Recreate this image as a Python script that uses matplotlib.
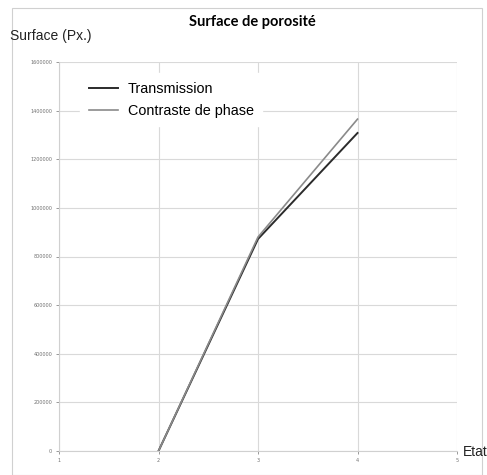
import matplotlib
matplotlib.use("Agg")
import matplotlib.pyplot as plt
from matplotlib.patches import Rectangle

etat = [2, 3, 4]
transmission = [0, 872000, 1308000]
contraste = [0, 880000, 1365000]
series_names = ["Transmission", "Contraste de phase"]
yticks = [0, 200000, 400000, 600000, 800000, 1000000, 1200000, 1400000, 1600000]
xticks = [1, 2, 3, 4, 5]

W, H = 487, 475
fig = plt.figure(figsize=(W / 100, H / 100), dpi=100)
fig.patches.append(Rectangle((12 / W, 0.0), (482 - 12) / W, 1 - 8 / H,
                             transform=fig.transFigure, fill=False,
                             edgecolor="#d0d0d0", linewidth=0.8))

ax = fig.add_axes([59 / W, 1 - 451 / H, (457 - 59) / W, (451 - 62) / H])
ax.plot(etat, transmission, color="#2b2b2b", lw=1.4, label=series_names[0])
ax.plot(etat, contraste, color="#8a8a8a", lw=1.2, label=series_names[1])

ax.set_xlim(1, 5)
ax.set_ylim(0, 1600000)
ax.set_xticks(xticks)
ax.set_yticks(yticks)
ax.set_xticklabels([str(v) for v in xticks])
ax.set_yticklabels([str(v) for v in yticks])
ax.tick_params(labelsize=3.5, colors="#707070", length=2, width=0.5, pad=3)
ax.grid(True, color="#d9d9d9", linewidth=0.8)
for s in ["top", "right"]:
    ax.spines[s].set_visible(False)
for s in ["left", "bottom"]:
    ax.spines[s].set_color("#d0d0d0")
    ax.spines[s].set_linewidth(0.8)

leg = ax.legend(loc="upper left", bbox_to_anchor=(0.035, 0.99), frameon=True,
                prop={"family": "Liberation Sans", "size": 10.4},
                handlelength=2.0, handletextpad=0.7, labelspacing=0.55,
                borderpad=0.6)
leg.get_frame().set_edgecolor("white")
leg.get_frame().set_facecolor("white")
leg.get_frame().set_alpha(1)

fig.text(252 / W, 1 - 22 / H, "Surface de porosité", ha="center", va="center",
         fontsize=10.5, fontweight="bold", family="Lato")
fig.text(10 / W, 1 - 36 / H, "Surface (Px.)", ha="left", va="center",
         fontsize=10, family="Liberation Sans", color="#222222")
fig.text(463 / W, 1 - 452 / H, "Etat", ha="left", va="center",
         fontsize=10, family="Liberation Sans", color="#222222")

fig.savefig("out.png", dpi=100, facecolor="white")
